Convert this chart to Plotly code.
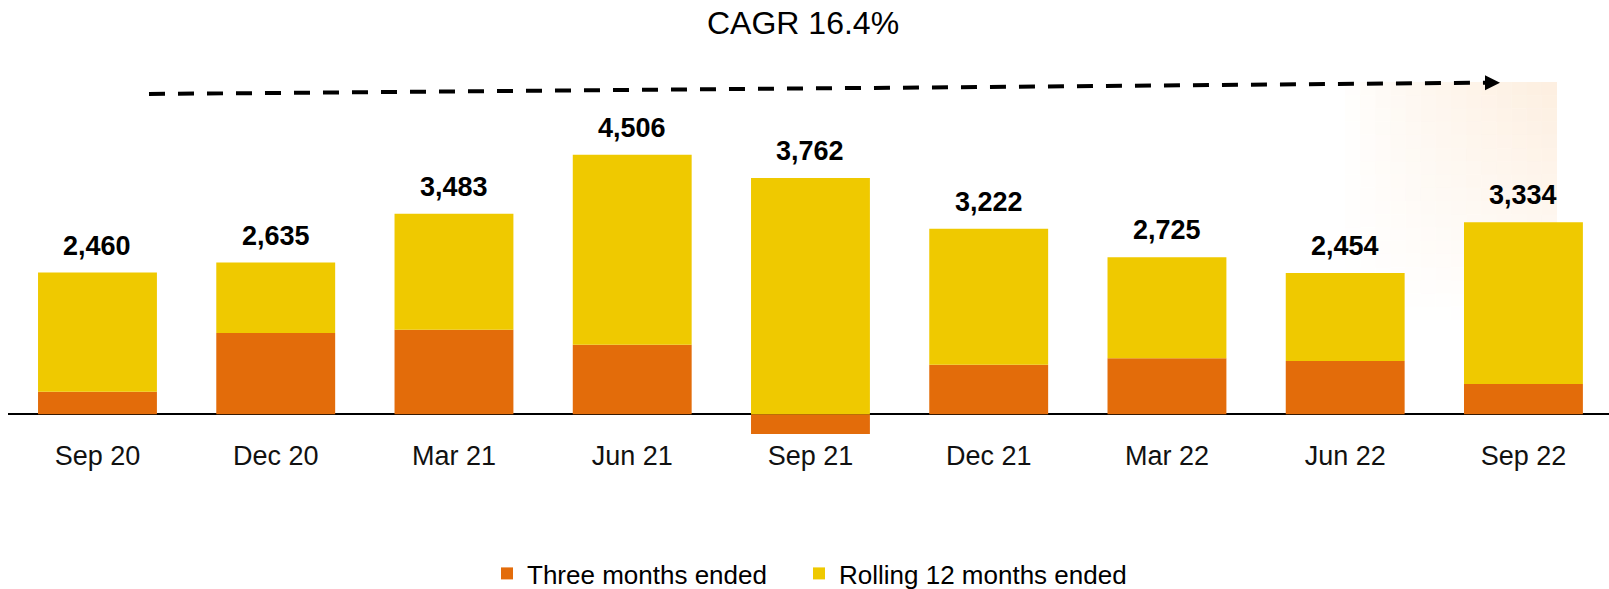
import plotly.graph_objects as go

# ---- data ----
categories = ["Sep 20", "Dec 20", "Mar 21", "Jun 21", "Sep 21", "Dec 21", "Mar 22", "Jun 22", "Sep 22"]
three_months = [392, 1411, 1468, 1208, -340, 861, 972, 925, 526]
rolling_12m = [2068, 1224, 2015, 3298, 4102, 2361, 1753, 1529, 2808]
totals = [2460, 2635, 3483, 4506, 3762, 3222, 2725, 2454, 3334]
series_names = ["Three months ended", "Rolling 12 months ended"]
cagr_text = "CAGR 16.4%"

ORANGE = "#E36C0A"
YELLOW = "#EFC900"
FONT = "Liberation Sans, Arial, sans-serif"

W, H = 1609, 589
ML, MR, MT, MB = 8, 0, 60, 152
PW = W - ML - MR
PH = H - MT - MB
PLOT_BOTTOM = MT + PH


def px(x, y):
    """pixel -> paper coords"""
    return (x - ML) / PW, (PLOT_BOTTOM - y) / PH


fig = go.Figure()
fig.add_trace(go.Bar(x=categories, y=three_months, name=series_names[0],
                     legendwidth=267,
                     marker=dict(color=ORANGE, line=dict(width=0))))
fig.add_trace(go.Bar(x=categories, y=rolling_12m, name=series_names[1],
                     marker=dict(color=YELLOW, line=dict(width=0))))

annotations = []
for c, a, b, t in zip(categories, three_months, rolling_12m, totals):
    top = max(a, 0) + max(b, 0)
    annotations.append(dict(x=c, y=top, xref="x", yref="y", text=f"<b>{t:,}</b>",
                            showarrow=False, yanchor="bottom", yshift=10,
                            font=dict(family=FONT, size=27, color="#000000")))

cx, cy = px(802.5, 22.5)
annotations.append(dict(x=cx, y=cy, xref="paper", yref="paper",
                        text=cagr_text, showarrow=False, xanchor="center", yanchor="middle",
                        font=dict(family=FONT, size=32, color="#000000")))

shapes = []
# soft glow behind last bar
gx0, gx1, gy0, gy1 = 1345, 1557, 82, 320
nx, ny = 14, 18
for i in range(nx):
    for j in range(ny):
        xa = gx0 + (gx1 - gx0) * i / nx
        xb = gx0 + (gx1 - gx0) * (i + 1) / nx
        ya = gy0 + (gy1 - gy0) * j / ny
        yb = gy0 + (gy1 - gy0) * (j + 1) / ny
        fx = ((i + 0.5) / nx) ** 0.7
        fy = (1 - (j + 0.5) / ny) ** 0.8
        alpha = 0.40 * fx * fy
        p0 = px(xa, ya)
        p1 = px(xb, yb)
        shapes.append(dict(type="rect", xref="paper", yref="paper",
                           x0=p0[0], x1=p1[0], y0=p1[1], y1=p0[1],
                           line=dict(width=0), layer="below",
                           fillcolor=f"rgba(250,214,176,{alpha:.3f})"))

# dashed CAGR arrow
a0 = px(149, 94)
a1 = px(1487, 82.7)
shapes.append(dict(type="line", xref="paper", yref="paper",
                   x0=a0[0], y0=a0[1], x1=a1[0], y1=a1[1],
                   line=dict(color="#000000", width=4, dash="16px,13px")))
t1 = px(1485, 75.3)
t2 = px(1500, 82.7)
t3 = px(1485, 90.3)
shapes.append(dict(type="path", xref="paper", yref="paper",
                   path=f"M {t1[0]} {t1[1]} L {t2[0]} {t2[1]} L {t3[0]} {t3[1]} Z",
                   fillcolor="#000000", line=dict(width=0)))

units_per_px = 17.36
baseline_px = 414.3
ymin = -(PLOT_BOTTOM - baseline_px) * units_per_px
ymax = (baseline_px - MT) * units_per_px

fig.update_layout(
    template="none",
    width=W, height=H,
    margin=dict(l=ML, r=MR, t=MT, b=MB, pad=0, autoexpand=False),
    barmode="relative",
    bargap=0.333,
    plot_bgcolor="white", paper_bgcolor="white",
    font=dict(family=FONT, color="#000000"),
    xaxis=dict(range=[-0.502, 8.48], showgrid=False, showline=False, ticks="",
               automargin=False,
               tickfont=dict(family=FONT, size=27, color="#111111"),
               ticklabelstandoff=0),
    yaxis=dict(range=[ymin, ymax], visible=True, showgrid=False, showticklabels=False,
               automargin=False, showline=False,
               zeroline=True, zerolinecolor="#000000", zerolinewidth=2, ticks=""),
    legend=dict(orientation="h", xref="container", yref="container",
                x=487 / W, xanchor="left", y=(H - 573.5) / H, yanchor="middle",
                font=dict(family=FONT, size=26, color="#000000"),
                traceorder="normal", bgcolor="rgba(0,0,0,0)", borderwidth=0),
    annotations=annotations,
    shapes=shapes,
)

fig.write_html("out.html", config={"displayModeBar": False},
               post_script="document.body.style.margin='0';document.body.style.overflow='hidden';")
